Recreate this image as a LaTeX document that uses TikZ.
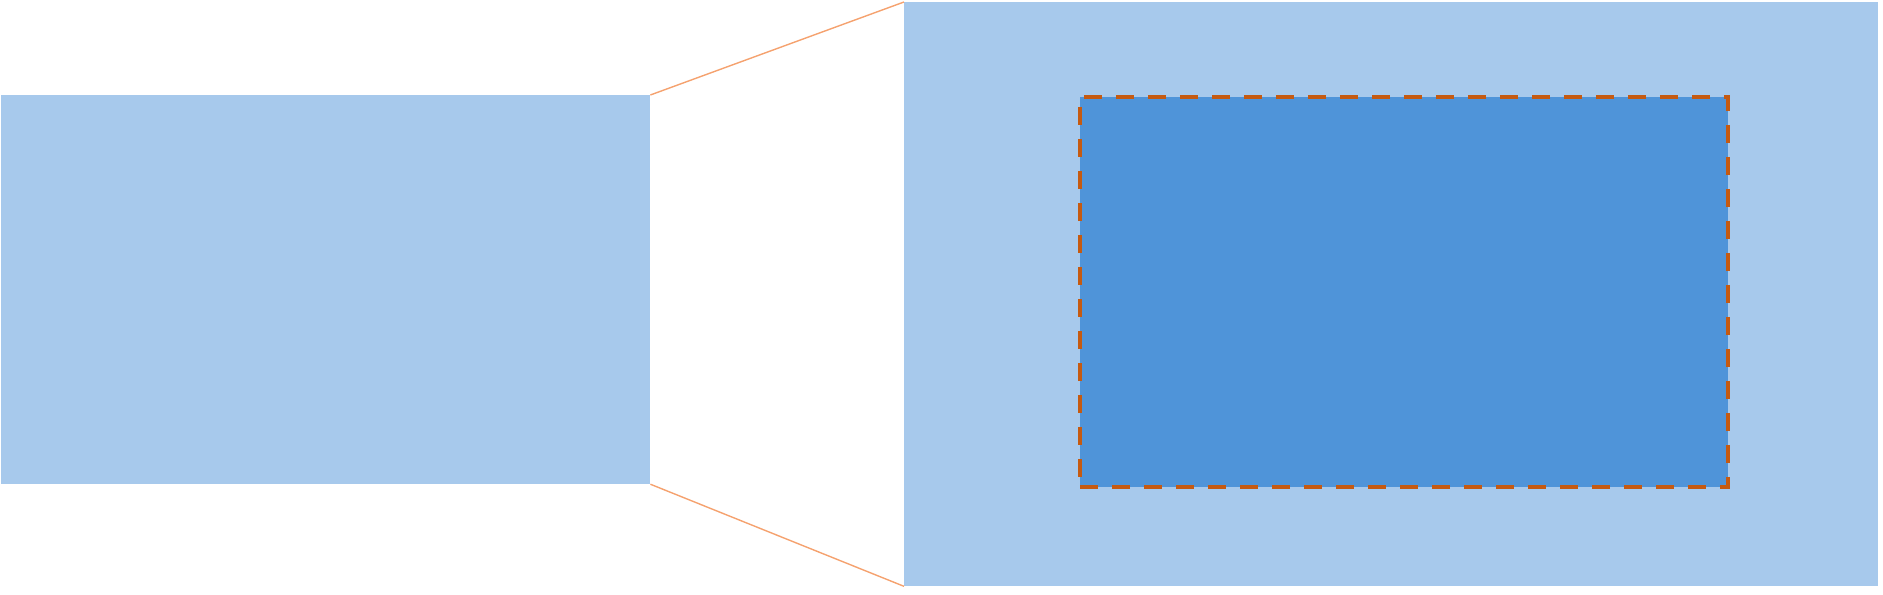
\documentclass[tikz,border=0pt]{standalone}
\usepackage{tikz}
\definecolor{lightblue}{HTML}{A7C9EC}
\definecolor{deepblue}{HTML}{4F94D9}
\definecolor{rustorange}{HTML}{C55A11}
\definecolor{lineorange}{HTML}{F5A26F}
\tikzset{
  panel/.style={fill=lightblue,inner sep=0,outer sep=0,anchor=north west},
  cropbox/.style={fill=deepblue,draw=rustorange,line width=0.04cm,
    dash pattern=on 0.18cm off 0.14cm,inner sep=0,outer sep=0,anchor=north west},
  link/.style={draw=lineorange,line width=0.4pt}
}
\begin{document}
\begin{tikzpicture}[x=0.01cm,y=-0.01cm]
    \useasboundingbox (0,0) rectangle (1883,595);
    \node[panel,minimum width=6.49cm,minimum height=3.89cm] (crop) at (1,95) {};
    \node[panel,minimum width=9.73cm,minimum height=5.84cm] (full) at (904,2) {};
    \node[cropbox,minimum width=6.48cm,minimum height=3.90cm] (region) at (1080,97) {};
    \path (crop.north east) edge [link] (full.north west);
    \path (crop.south east) edge [link] (full.south west);
  \end{tikzpicture}
\end{document}
